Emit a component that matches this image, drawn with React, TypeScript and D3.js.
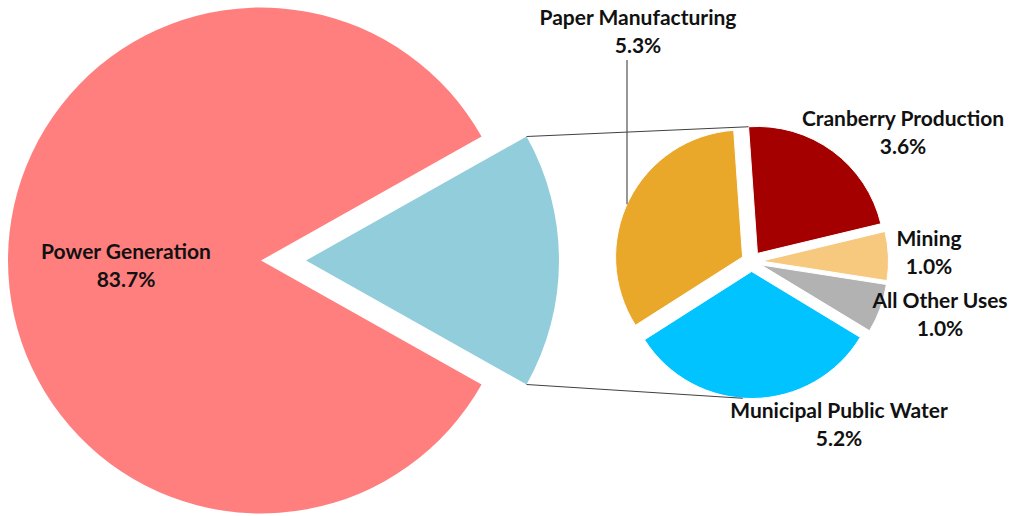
import React from "react";
import * as d3 from "d3";

// ---- Data ----
const mainCategories = ["Power Generation", "Other Uses"];
const mainValues = [83.7, 16.3];
const mainColors = ["#FF7F7F", "#92CDDC"];

const subCategories = [
  "Cranberry Production",
  "Mining",
  "All Other Uses",
  "Municipal Public Water",
  "Paper Manufacturing",
];
const subValues = [3.6, 1.0, 1.0, 5.2, 5.3];
const subColors = ["#A50000", "#F6C97F", "#B2B2B2", "#00C3FF", "#EAA82A"];

const labelText = [
  ["Power Generation", "83.7%"],
  ["Paper Manufacturing", "5.3%"],
  ["Cranberry Production", "3.6%"],
  ["Mining", "1.0%"],
  ["All Other Uses", "1.0%"],
  ["Municipal Public Water", "5.2%"],
];

const W = 1010;
const H = 516;

export default function App() {
  const deg = Math.PI / 180;

  // main pie
  const mainCx = 261;
  const mainCy = 260.5;
  const mainR = 253;
  const mainExplode = 45;
  const blueFrac = mainValues[1] / d3.sum(mainValues);
  const mainStart = Math.PI / 2 - blueFrac * Math.PI;
  const mainPie = d3
    .pie<number>()
    .sort(null)
    .startAngle(mainStart)
    .endAngle(mainStart + 2 * Math.PI);
  const mainArcs = mainPie([mainValues[1], mainValues[0]]);
  const mainArc = d3.arc<d3.PieArcDatum<number>>().innerRadius(0).outerRadius(mainR);

  // sub pie
  const subCx = 751.5;
  const subCy = 261.5;
  const subR = 127;
  const subExplode = 10;
  const subStart = -4 * deg;
  const subPie = d3
    .pie<number>()
    .sort(null)
    .startAngle(subStart)
    .endAngle(subStart + 2 * Math.PI);
  const subArcs = subPie(subValues);
  const subArc = d3.arc<d3.PieArcDatum<number>>().innerRadius(0).outerRadius(subR);

  const offset = (a: d3.PieArcDatum<number>, e: number) => {
    const m = (a.startAngle + a.endAngle) / 2;
    return [e * Math.sin(m), -e * Math.cos(m)];
  };

  // blue slice corners
  const blue = mainArcs[0];
  const [bdx, bdy] = offset(blue, mainExplode);
  const bTop = [
    mainCx + bdx + mainR * Math.sin(blue.startAngle),
    mainCy + bdy - mainR * Math.cos(blue.startAngle),
  ];
  const bBot = [
    mainCx + bdx + mainR * Math.sin(blue.endAngle),
    mainCy + bdy - mainR * Math.cos(blue.endAngle),
  ];

  // sub pie connector targets
  const cran = subArcs[0];
  const [cdx, cdy] = offset(cran, subExplode);
  const sTop = [
    subCx + cdx + subR * Math.sin(cran.startAngle),
    subCy + cdy - subR * Math.cos(cran.startAngle),
  ];
  const muni = subArcs[3];
  const [mdx, mdy] = offset(muni, subExplode);
  const botA = 184 * deg;
  const sBot = [subCx + mdx + subR * Math.sin(botA), subCy + mdy - subR * Math.cos(botA)];

  // paper leader line
  const paper = subArcs[4];
  const [pdx, pdy] = offset(paper, subExplode);
  const leaderX = 627;
  const sa = Math.asin((leaderX - (subCx + pdx)) / subR);
  const pa = 2 * Math.PI + sa;
  const leaderY = subCy + pdy - subR * Math.cos(pa);

  const labelPos = [
    [126, 259],
    [638, 25],
    [903, 126],
    [929, 246],
    [940, 308],
    [839, 418],
  ];

  return (
    <svg
      width={W}
      height={H}
      style={{ position: "absolute", left: 0, top: 0, background: "#fff" }}
      fontFamily="Lato, 'Open Sans', sans-serif"
    >
      <g>
        {mainArcs.map((a, i) => {
          const [dx, dy] = i === 0 ? offset(a, mainExplode) : [0, 0];
          return (
            <path
              key={i}
              d={mainArc(a) as string}
              transform={`translate(${mainCx + dx},${mainCy + dy})`}
              fill={i === 0 ? mainColors[1] : mainColors[0]}
            />
          );
        })}
      </g>
      <g>
        {subArcs.map((a, i) => {
          const [dx, dy] = offset(a, subExplode);
          return (
            <path
              key={i}
              d={subArc(a) as string}
              transform={`translate(${subCx + dx},${subCy + dy})`}
              fill={subColors[i]}
              stroke="#fff"
              strokeWidth={1}
            />
          );
        })}
      </g>
      <g stroke="#404040" strokeWidth={1.1} fill="none">
        <line x1={bTop[0]} y1={bTop[1]} x2={sTop[0]} y2={sTop[1]} />
        <line x1={bBot[0]} y1={bBot[1]} x2={sBot[0]} y2={sBot[1]} />
        <line x1={leaderX} y1={60} x2={leaderX} y2={leaderY} />
      </g>
      <g fontWeight="bold" fontSize={21} fill="#111" textAnchor="middle">
        {labelText.map((t, i) => (
          <text key={i} x={labelPos[i][0]} y={labelPos[i][1]}>
            <tspan x={labelPos[i][0]}>{t[0]}</tspan>
            <tspan x={labelPos[i][0]} dy={28}>
              {t[1]}
            </tspan>
          </text>
        ))}
      </g>
    </svg>
  );
}
